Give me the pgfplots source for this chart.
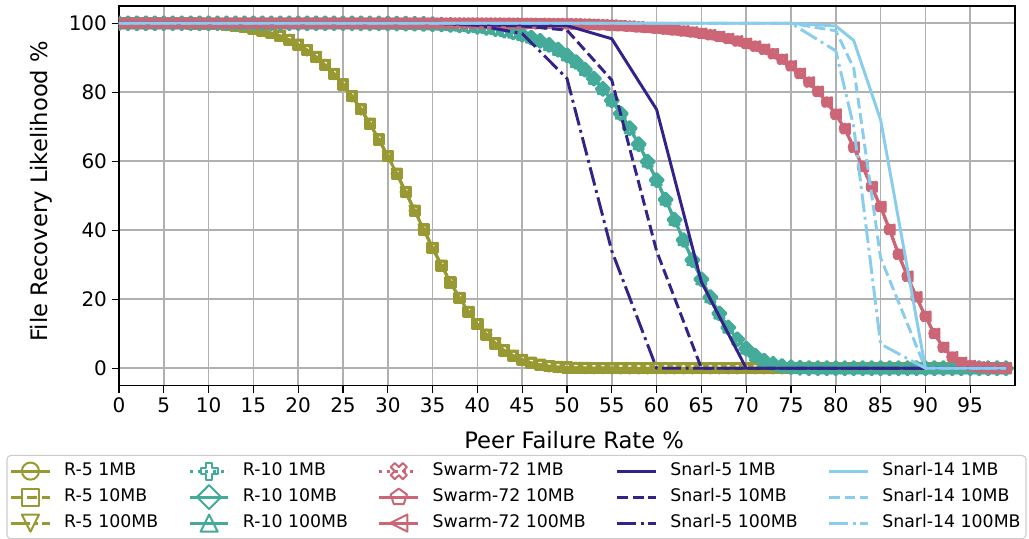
\documentclass[border=0pt]{standalone}
\usepackage{fontspec}
\setmainfont{DejaVu Sans}
\usepackage{pgfplots}
\pgfplotsset{compat=1.18}
\usepackage{pgfplotstable}
\usetikzlibrary{plotmarks}

\definecolor{cOlive}{HTML}{999933}
\definecolor{cTeal}{HTML}{44AA99}
\definecolor{cRose}{HTML}{CC6677}
\definecolor{cIndigo}{HTML}{332288}
\definecolor{cSky}{HTML}{88CCEE}

% open triangle (wide base, like the usual plotting-library triangle)
\pgfdeclareplotmark{mtri}{%
  \pgfpathmoveto{\pgfqpoint{0pt}{\pgfplotmarksize}}%
  \pgfpathlineto{\pgfqpoint{-\pgfplotmarksize}{-\pgfplotmarksize}}%
  \pgfpathlineto{\pgfqpoint{\pgfplotmarksize}{-\pgfplotmarksize}}%
  \pgfpathclose\pgfusepathqstroke}
% open "fat plus" outline (rotated by 45 degrees it gives the fat cross)
\pgfdeclareplotmark{mplus}{%
  \pgfpathmoveto{\pgfqpoint{-0.333\pgfplotmarksize}{\pgfplotmarksize}}%
  \pgfpathlineto{\pgfqpoint{0.333\pgfplotmarksize}{\pgfplotmarksize}}%
  \pgfpathlineto{\pgfqpoint{0.333\pgfplotmarksize}{0.333\pgfplotmarksize}}%
  \pgfpathlineto{\pgfqpoint{\pgfplotmarksize}{0.333\pgfplotmarksize}}%
  \pgfpathlineto{\pgfqpoint{\pgfplotmarksize}{-0.333\pgfplotmarksize}}%
  \pgfpathlineto{\pgfqpoint{0.333\pgfplotmarksize}{-0.333\pgfplotmarksize}}%
  \pgfpathlineto{\pgfqpoint{0.333\pgfplotmarksize}{-\pgfplotmarksize}}%
  \pgfpathlineto{\pgfqpoint{-0.333\pgfplotmarksize}{-\pgfplotmarksize}}%
  \pgfpathlineto{\pgfqpoint{-0.333\pgfplotmarksize}{-0.333\pgfplotmarksize}}%
  \pgfpathlineto{\pgfqpoint{-\pgfplotmarksize}{-0.333\pgfplotmarksize}}%
  \pgfpathlineto{\pgfqpoint{-\pgfplotmarksize}{0.333\pgfplotmarksize}}%
  \pgfpathlineto{\pgfqpoint{-0.333\pgfplotmarksize}{0.333\pgfplotmarksize}}%
  \pgfpathclose\pgfusepathqstroke}

\pgfplotsset{
  lsolid/.style={solid},
  ldashed/.style={dash pattern=on 8.1pt off 3.5pt},
  ldashdot/.style={dash pattern=on 14.1pt off 3.5pt on 2.2pt off 3.5pt},
  ldotted/.style={dash pattern=on 2.2pt off 3.6pt},
  base/.style={line width=2.2pt, line cap=butt, line join=round},
  mk/.style={mark options={solid, line width=1.5pt, #1}},
  r5a/.style={base, cOlive, lsolid, mark=o, mk={}},
  r5b/.style={base, cOlive, ldashed, mark=square, mk={}},
  r5c/.style={base, cOlive, ldashdot, mark=mtri, mk={rotate=180}},
  r10a/.style={base, cTeal, ldotted, mark=mplus, mk={}},
  r10b/.style={base, cTeal, lsolid, mark=square, mk={rotate=45}},
  r10c/.style={base, cTeal, lsolid, mark=mtri, mk={}},
  swa/.style={base, cRose, ldotted, mark=mplus, mk={rotate=45}},
  swb/.style={base, cRose, lsolid, mark=pentagon, mk={}},
  swc/.style={base, cRose, lsolid, mark=mtri, mk={rotate=90}},
  s5a/.style={base, cIndigo, lsolid, mark=none},
  s5b/.style={base, cIndigo, ldashed, mark=none},
  s5c/.style={base, cIndigo, ldashdot, mark=none},
  s14a/.style={base, cSky, lsolid, mark=none},
  s14b/.style={base, cSky, ldashed, mark=none},
  s14c/.style={base, cSky, ldashdot, mark=none},
  pm/.style={mark size=3.6pt, /tikz/every mark/.append style={line width=2pt}, forget plot},
  lm/.style={mark size=6.4pt},
}

% replication and Swarm curves, one point per percent
\pgfplotstableread{
x   r5     r10    sw
0   100    100    100
1   100    100    100
2   100    100    100
3   100    100    100
4   100    100    100
5   100    100    100
6   99.98  100    100
7   99.97  100    100
8   99.93  100    100
9   99.88  100    100
10  99.80  100    100
11  99.68  100    100
12  99.50  100    100
13  99.26  100    100
14  98.93  100    100
15  98.49  100    100
16  97.92  100    100
17  97.20  100    100
18  96.29  100    100
19  95.17  100    100
20  93.80  100    100
21  92.16  100    100
22  90.20  100    100
23  87.92  100    100
24  85.27  100    100
25  82.25  100    100
26  78.84  99.99  100
27  75.04  99.98  100
28  70.86  99.97  100
29  66.32  99.96  100
30  61.47  99.94  100
31  56.36  99.92  100
32  51.06  99.89  100
33  45.65  99.85  100
34  40.22  99.79  100
35  34.88  99.72  100
36  29.73  99.64  100
37  24.87  99.52  100
38  20.37  99.37  100
39  16.32  99.19  100
40  12.77  98.96  100
41  9.72   98.67  99.98
42  7.20   98.31  99.97
43  5.17   97.86  99.96
44  3.59   97.32  99.94
45  2.41   96.65  99.92
46  1.56   95.85  99.90
47  0.97   94.87  99.88
48  0.57   93.71  99.85
49  0.32   92.33  99.82
50  0.18   90.69  99.80
51  0.09   88.77  99.75
52  0.04   86.53  99.70
53  0.02   83.94  99.60
54  0.01   80.97  99.50
55  0      77.60  99.40
56  0      73.81  99.25
57  0      69.59  99.10
58  0      64.94  98.90
59  0      59.90  98.70
60  0      54.53  98.50
61  0      48.88  98.25
62  0      43.05  98.00
63  0      37.17  97.70
64  0      31.36  97.40
65  0      25.79  97.00
66  0      20.59  96.60
67  0      15.89  96.10
68  0      11.81  95.50
69  0      8.40   94.80
70  0      5.70   94.10
71  0      3.65   93.30
72  0      2.20   92.40
73  0      1.24   91.10
74  0      0.64   89.50
75  0      0.30   87.60
76  0      0.13   85.40
77  0      0.05   82.90
78  0      0.02   80.20
79  0      0      77.10
80  0      0      73.60
81  0      0      69.40
82  0      0      64.00
83  0      0      58.40
84  0      0      52.60
85  0      0      46.80
86  0      0      40.20
87  0      0      33.00
88  0      0      26.60
89  0      0      20.60
90  0      0      15.00
91  0      0      10.00
92  0      0      6.00
93  0      0      3.20
94  0      0      1.60
95  0      0      0.70
96  0      0      0.30
97  0      0      0.10
98  0      0      0
99  0      0      0
}\tabR

% Snarl curves, coarser sampling
\pgfplotstableread{
x   s5a    s5b    s5c    s14a   s14b   s14c
0   100    100    100    100    100    100
5   100    100    100    100    100    100
10  100    100    100    100    100    100
15  100    100    100    100    100    100
20  100    100    100    100    100    100
25  100    100    100    100    100    100
30  100    100    100    100    100    100
35  100    100    100    100    100    100
40  99.7   99.6   99.4   100    100    100
45  99.5   99.2   97.0   100    100    100
50  99.3   98.0   84.0   100    100    100
55  95.5   83.5   34.0   100    100    100
60  75.0   34.0   0      100    100    100
65  25.0   0      0      100    100    100
70  0      0      0      100    100    100
75  0      0      0      100    100    100
80  0      0      0      99.2   97.8   92.0
82  0      0      0      95.0   87.0   70.0
85  0      0      0      72.0   32.0   7.0
90  0      0      0      0      0      0
95  0      0      0      0      0      0
99  0      0      0      0      0      0
}\tabS

\begin{document}
\begin{tikzpicture}
\useasboundingbox (-89.25pt,-115.1pt) rectangle (682.5pt,289.1pt);
\begin{axis}[
  at={(0,0)}, anchor=south west,
  scale only axis, width=672pt, height=284.6pt,
  xmin=0, xmax=100, ymin=-5, ymax=105,
  xtick={0,5,...,95}, ytick={0,20,...,100},
  tick pos=left, tick align=outside,
  major tick length=5.5pt,
  every tick/.style={black, line width=1pt},
  grid=major, major grid style={color=black!31, line width=1.2pt},
  axis line style={line width=1pt},
  /pgf/number format/assume math mode=true,
  tick label style={font=\fontsize{15}{18}\selectfont},
  label style={font=\fontsize{17}{20}\selectfont},
  xlabel={Peer Failure Rate \%},
  ylabel={File Recovery Likelihood \%},
  xlabel style={at={(axis description cs:0.508,-0.1436)}, anchor=center},
  ylabel style={at={(axis description cs:-0.0871,0.512)}, anchor=center},
  clip marker paths=true,
  legend columns=5,
  legend cell align=left,
  legend image code/.code={%
    \draw[mark repeat=2, mark phase=2] plot coordinates {(0pt,0pt) (14.5pt,0pt) (29pt,0pt)};},
  legend style={
    at={(axis description cs:0.4436,-0.183)}, anchor=north,
    draw=black!20, line width=0.8pt, rounded corners=3pt,
    font=\fontsize{13}{15.6}\selectfont,
    inner sep=2pt, column sep=0pt, row sep=0pt,
    /tikz/every odd column/.append style={column sep=7.75pt},
    /tikz/every even column/.append style={column sep=20.5pt},
    nodes={text height=10pt, text depth=3pt, inner ysep=3.25pt, inner xsep=2pt},
  },
]
% legend, filled row by row
\addlegendimage{r5a, lm}  \addlegendentry{R-5 1MB}
\addlegendimage{r10a, lm} \addlegendentry{R-10 1MB}
\addlegendimage{swa, lm}  \addlegendentry{Swarm-72 1MB}
\addlegendimage{s5a}      \addlegendentry{Snarl-5 1MB}
\addlegendimage{s14a}     \addlegendentry{Snarl-14 1MB}
\addlegendimage{r5b, lm}  \addlegendentry{R-5 10MB}
\addlegendimage{r10b, lm} \addlegendentry{R-10 10MB}
\addlegendimage{swb, lm}  \addlegendentry{Swarm-72 10MB}
\addlegendimage{s5b}      \addlegendentry{Snarl-5 10MB}
\addlegendimage{s14b}     \addlegendentry{Snarl-14 10MB}
\addlegendimage{r5c, lm}  \addlegendentry{R-5 100MB}
\addlegendimage{r10c, lm} \addlegendentry{R-10 100MB}
\addlegendimage{swc, lm}  \addlegendentry{Swarm-72 100MB}
\addlegendimage{s5c}      \addlegendentry{Snarl-5 100MB}
\addlegendimage{s14c}     \addlegendentry{Snarl-14 100MB}

% data
\addplot[r5a, pm]  table[x=x, y=r5]  {\tabR};
\addplot[r5b, pm]  table[x=x, y=r5]  {\tabR};
\addplot[r5c, pm]  table[x=x, y=r5]  {\tabR};
\addplot[r10a, pm] table[x=x, y=r10] {\tabR};
\addplot[r10b, pm] table[x=x, y=r10] {\tabR};
\addplot[r10c, pm] table[x=x, y=r10] {\tabR};
\addplot[swa, pm]  table[x=x, y=sw]  {\tabR};
\addplot[swb, pm]  table[x=x, y=sw]  {\tabR};
\addplot[swc, pm]  table[x=x, y=sw]  {\tabR};
\addplot[s5a, forget plot]  table[x=x, y=s5a]  {\tabS};
\addplot[s5b, forget plot]  table[x=x, y=s5b]  {\tabS};
\addplot[s5c, forget plot]  table[x=x, y=s5c]  {\tabS};
\addplot[s14a, forget plot] table[x=x, y=s14a] {\tabS};
\addplot[s14b, forget plot] table[x=x, y=s14b] {\tabS};
\addplot[s14c, forget plot] table[x=x, y=s14c] {\tabS};
\end{axis}
\end{tikzpicture}
\end{document}
